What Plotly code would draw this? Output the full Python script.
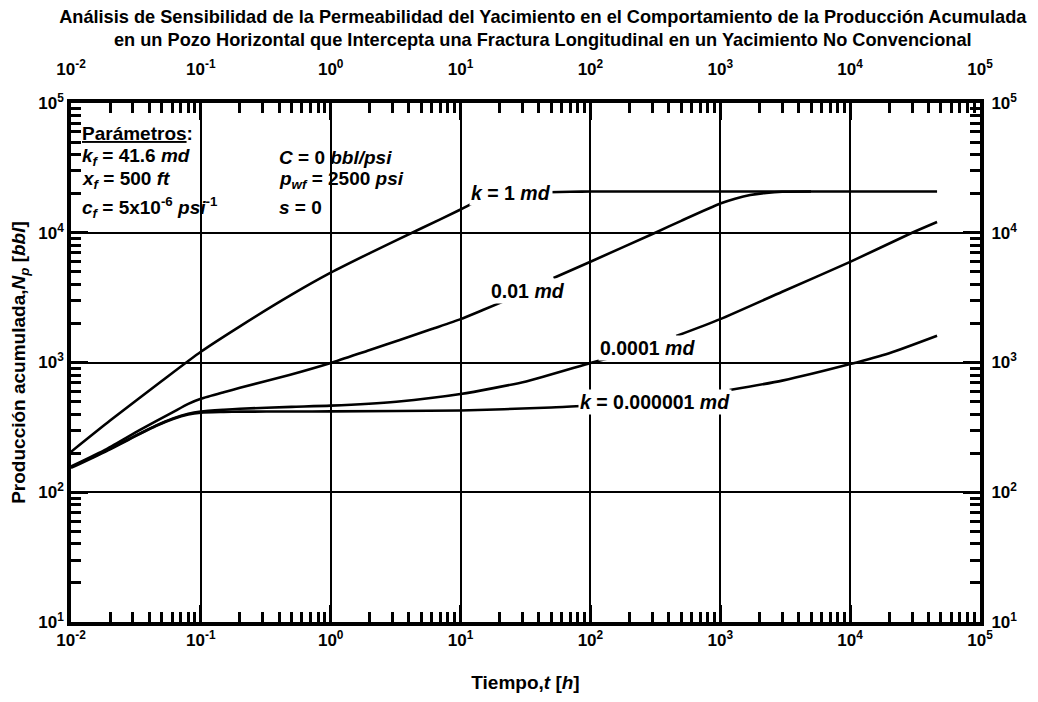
import numpy as np
import plotly.graph_objects as go

# ---------------- data ----------------
t_k1 = [0.01, 0.02, 0.05, 0.1, 0.2, 0.5, 1, 2, 5, 10, 12.1, None,
        47, 70, 100, 1000, 10000, 46700]
N_k1 = [205, 357, 720, 1210, 1900, 3330, 4920, 6970, 10830, 15100, 16700, None,
        20500, 20700, 20800, 20800, 20800, 20800]

t_k001 = [0.01, 0.0188, 0.034, 0.061, 0.08, 0.1, 0.15, 0.2, 0.48, 1, 2, 3.4, 6, 10, 15, 21, None,
          52, 100, 322, 500, 1000, 1300, 1700, 2260, 3000, 5000]
N_k001 = [158, 215, 302, 415, 480, 525, 590, 638, 800, 990, 1250, 1490, 1810, 2160, 2550, 2930, None,
          4480, 5980, 10100, 12360, 16800, 18300, 19550, 20300, 20700, 20800]

t_k00001 = [0.01, 0.0188, 0.034, 0.045, 0.061, 0.08, 0.1, 0.15, 0.2, 0.5, 1, 3.2, 10, 32, 100, 148, None,
            458, 1000, 3000, 10000, 30000, 46700]
N_k00001 = [156, 210, 284, 326, 370, 402, 418, 432, 440, 455, 465, 499, 571, 715, 990, 1100, None,
            1600, 2160, 3510, 5960, 10000, 12100]

t_k1e6 = [0.01, 0.0188, 0.034, 0.045, 0.061, 0.08, 0.1, 0.15, 0.2, 0.5, 1, 10, 50, 85, None,
          1180, 3000, 10000, 20000, 46700]
N_k1e6 = [154, 208, 282, 324, 367, 398, 411, 416, 418, 419, 420, 427, 450, 462, None,
          614, 725, 972, 1180, 1610]

x_exponents = list(range(-2, 6))
y_exponents = list(range(1, 6))
x_ticktext = [f"10<sup>{e}</sup>" for e in x_exponents]
y_ticktext = [f"10<sup>{e}</sup>" for e in y_exponents]

curve_labels = ["<i>k</i> = 1 <i>md</i>", "0.01 <i>md</i>", "0.0001 <i>md</i>",
                "<i>k</i> = 0.000001 <i>md</i>"]
label_t = [24.3, 33.3, 274, 316]
label_N = [20200, 3560, 1295, 497]

# ---------------- figure ----------------
FONT = "Liberation Sans, Arial, sans-serif"
fig = go.Figure()
for tx, ny in [(t_k1, N_k1), (t_k001, N_k001), (t_k00001, N_k00001), (t_k1e6, N_k1e6)]:
    fig.add_trace(go.Scatter(x=tx, y=ny, mode="lines",
                             line=dict(color="black", width=2.6, shape="spline", smoothing=0.6),
                             connectgaps=False, showlegend=False, hoverinfo="skip"))
# dummy trace for the secondary (top/right) label axes
fig.add_trace(go.Scatter(x=[None], y=[None], xaxis="x2", yaxis="y2", showlegend=False, hoverinfo="skip"))

x_minor = [m * 10.0 ** e for e in range(-2, 5) for m in range(2, 10)]
y_minor = [m * 10.0 ** e for e in range(1, 5) for m in range(2, 10)]

tickfont = dict(family=FONT, size=17, color="black", weight="bold")
axis_common = dict(type="log", showline=True, linewidth=3.5, linecolor="black", mirror="allticks",
                   ticks="inside", ticklen=17, tickwidth=3, tickcolor="black",
                   showgrid=True, gridcolor="black", gridwidth=1.8, zeroline=False,
                   tickfont=tickfont, automargin=False)
label_axis = dict(type="log", tickmode="array", ticks="outside", tickcolor="rgba(0,0,0,0)",
                  showgrid=False, showline=False, zeroline=False, tickfont=tickfont, automargin=False)

fig.update_layout(
    width=1038, height=702,
    margin=dict(l=63, r=66, t=95, b=88),
    plot_bgcolor="white", paper_bgcolor="white",
    title=dict(text="Análisis de Sensibilidad de la Permeabilidad del Yacimiento en el Comportamiento de la Producción Acumulada<br>"
                    "en un Pozo Horizontal que Intercepta una Fractura Longitudinal en un Yacimiento No Convencional",
               x=0.519, xanchor="center", xref="paper", y=0.979, yanchor="middle", yref="container",
               font=dict(family=FONT, size=18.2, color="black", weight="bold")),
    xaxis=dict(axis_common, range=[-2, 5], tickmode="array",
               tickvals=[10.0 ** e for e in x_exponents], ticktext=x_ticktext,
               minor=dict(tickmode="array", tickvals=x_minor, ticks="inside", ticklen=10, tickwidth=2.5,
                          tickcolor="black", showgrid=False),
               title=dict(text="Tiempo,<i>t</i> [<i>h</i>]", standoff=28,
                          font=dict(family=FONT, size=19, color="black", weight="bold"))),
    yaxis=dict(axis_common, range=[1, 5], tickmode="array",
               tickvals=[10.0 ** e for e in y_exponents], ticktext=y_ticktext,
               minor=dict(tickmode="array", tickvals=y_minor, ticks="inside", ticklen=10, tickwidth=2.5,
                          tickcolor="black", showgrid=False),
               title=dict(text="Producción acumulada,<i>N<sub>p</sub></i> [<i>bbl</i>]", standoff=12,
                          font=dict(family=FONT, size=19, color="black", weight="bold"))),
    xaxis2=dict(label_axis, range=[-2, 5], overlaying="x", side="top", anchor="y2", ticklen=20,
                tickvals=[10.0 ** e for e in x_exponents], ticktext=x_ticktext),
    yaxis2=dict(label_axis, range=[1, 5], overlaying="y", side="right", anchor="x2", ticklen=7,
                tickvals=[10.0 ** e for e in y_exponents], ticktext=y_ticktext),
)

# curve labels (white background hides the curve under the text)
for txt, tx, ny in zip(curve_labels, label_t, label_N):
    fig.add_annotation(x=np.log10(tx), y=np.log10(ny), xref="x", yref="y", text=txt, showarrow=False,
                       bgcolor="white", borderpad=1,
                       font=dict(family=FONT, size=19.5, color="black", weight="bold"))

# parameter block
params = [
    ("<u>Parámetros</u>:", 0.0099, 0.942),
    ("<i>k<sub>f</sub></i> = 41.6 <i>md</i>", 0.0099, 0.895),
    ("<i>x<sub>f</sub></i> = 500 <i>ft</i>", 0.0099, 0.852),
    ("<i>c<sub>f</sub></i> = 5x10<sup>-6</sup> <i>psi</i><sup>-1</sup>", 0.0099, 0.798),
    ("<i>C</i> = 0 <i>bbl/psi</i>", 0.2266, 0.895),
    ("<i>p<sub>wf</sub></i> = 2500 <i>psi</i>", 0.2266, 0.852),
    ("<i>s</i> = 0", 0.2266, 0.798),
]
for txt, px, py in params:
    fig.add_annotation(x=px, y=py, xref="paper", yref="paper", text=txt, showarrow=False,
                       xanchor="left", yanchor="middle",
                       font=dict(family=FONT, size=19, color="black", weight="bold"))

fig.write_html("out.html")
